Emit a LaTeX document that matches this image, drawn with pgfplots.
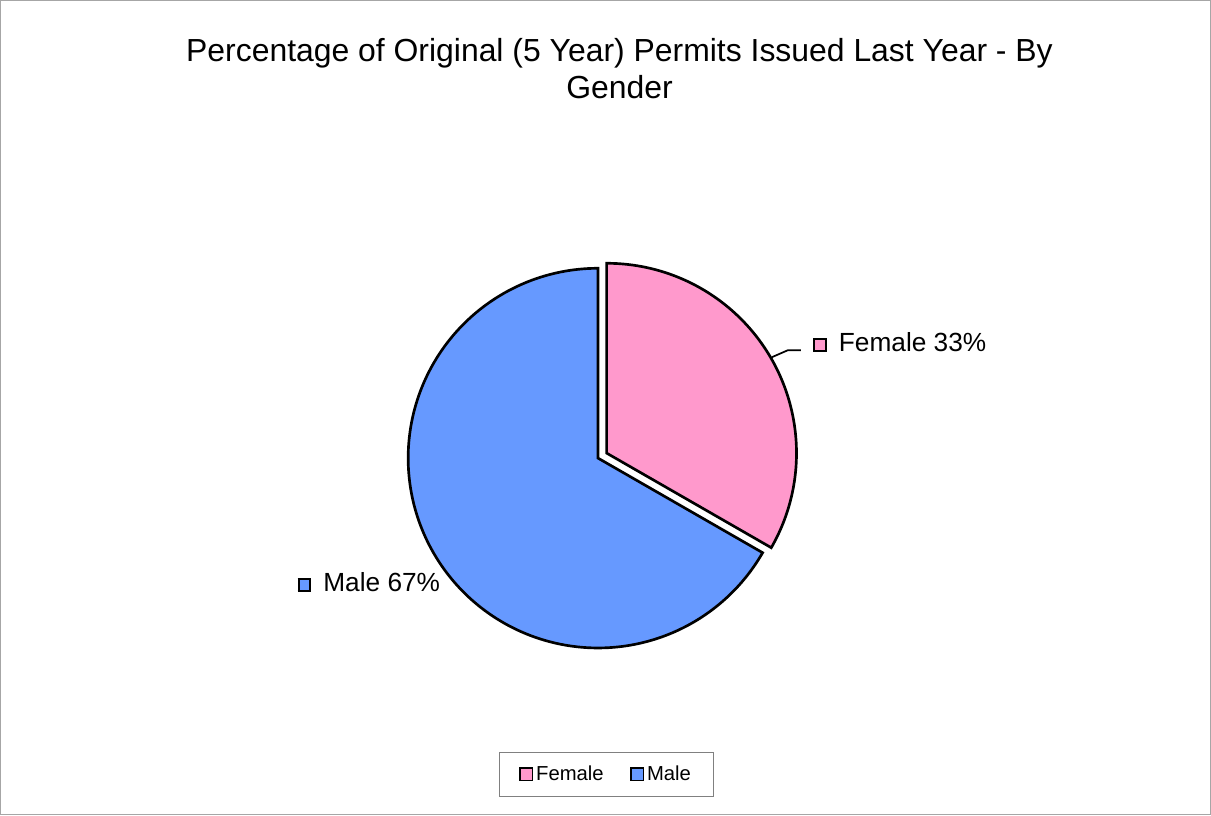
\documentclass[border=0pt]{standalone}
\usepackage{pgfplots}
\pgfplotsset{compat=1.18}
\usepackage{pgfplotstable}
\usepackage{fontspec}
\setmainfont{Liberation Sans}
\definecolor{femcol}{HTML}{FF99CC}
\definecolor{malecol}{HTML}{6699FF}
\definecolor{framecol}{HTML}{A6A6A6}

\pgfplotstableread{
name value
Female 33.3
Male 66.7
}\piedata

\newcommand\sq[1]{{\setlength\fboxsep{0pt}\setlength\fboxrule{1.6pt}\raisebox{1.3pt}{\fcolorbox{black}{#1}{\rule{0pt}{7.2pt}\rule{7.2pt}{0pt}}}}}

\begin{document}
\begin{tikzpicture}[x=0.75pt,y=0.75pt]
\pgfplotstablegetelem{0}{value}\of\piedata \let\vF\pgfplotsretval
\pgfplotstablegetelem{1}{value}\of\piedata \let\vM\pgfplotsretval
\pgfmathsetmacro\aF{90-360*\vF/(\vF+\vM)}
\pgfmathsetmacro\aM{\aF+360}
\pgfmathsetmacro\midF{(90+\aF)/2}
\def\R{190}
\def\cx{598}\def\cy{458}
\pgfmathsetmacro\fx{\cx+10*cos(\midF)}
\pgfmathsetmacro\fy{\cy-10*sin(\midF)}
\begin{axis}[
  scale only axis, width=908.25pt, height=611.25pt,
  xmin=0, xmax=1211, ymin=0, ymax=815, y dir=reverse,
  hide axis, clip=false,
  legend columns=2,
  legend style={at={(axis cs:606.5,774.5)}, anchor=center, draw=gray, line width=0.75pt,
    font=\fontsize{15.2}{18}\selectfont, inner xsep=15pt, inner ysep=8.5pt,
    /tikz/every even column/.append style={column sep=18pt}},
  legend image code/.code={\draw[#1,draw=black,line width=1.4pt] (0pt,-4.6pt) rectangle (9.2pt,4.6pt);},
]
\addplot[fill=femcol, draw=black, line width=2pt, line join=miter, domain=\aF:90, samples=150, variable=\t]
  ({\fx+\R*cos(\t)}, {\fy-\R*sin(\t)}) -- (axis cs:\fx,\fy) -- cycle;
\addlegendentry{Female}
\addplot[fill=malecol, draw=black, line width=2pt, line join=miter, domain=90:\aM, samples=300, variable=\t]
  ({\cx+\R*cos(\t)}, {\cy-\R*sin(\t)}) -- (axis cs:\cx,\cy) -- cycle;
\addlegendentry{Male}

\draw[framecol, line width=0.75pt] (rel axis cs:0,0) rectangle (rel axis cs:1,1);

\node[align=center, font=\fontsize{23.95}{27.75}\selectfont] at (axis cs:619.5,68)
  {Percentage of Original (5 Year) Permits Issued Last Year - By\\Gender};

\draw[black, line width=1.3pt] (axis cs:772,357) -- (axis cs:788,350) -- (axis cs:801,350);
\node[anchor=west, inner sep=0pt, font=\fontsize{19.7}{23}\selectfont] at (axis cs:813,342)
  {\sq{femcol}\hspace{9pt}Female 33\%};
\node[anchor=west, inner sep=0pt, font=\fontsize{19.7}{23}\selectfont] at (axis cs:297,582)
  {\sq{malecol}\hspace{9pt}Male 67\%};
\end{axis}
\end{tikzpicture}
\end{document}
